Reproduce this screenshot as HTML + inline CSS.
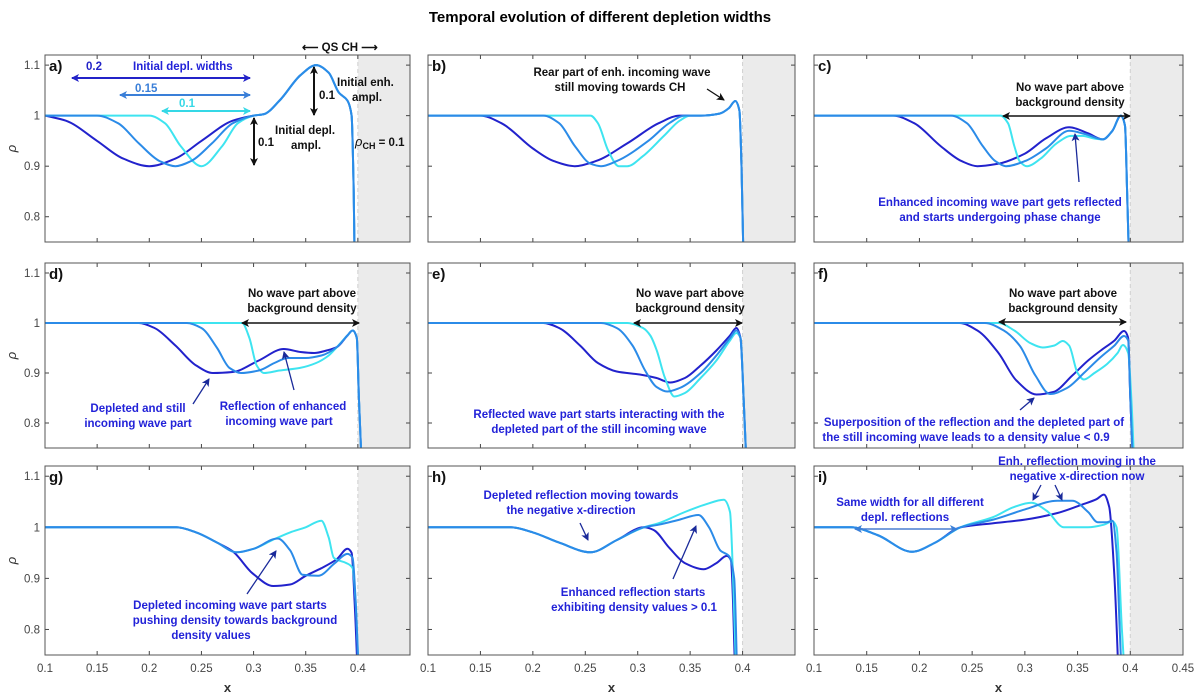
<!DOCTYPE html>
<html><head><meta charset="utf-8"><style>
body{margin:0;background:#fff}
svg{display:block}
text{font-family:"Liberation Sans",Arial,sans-serif}
.lab{font-size:11.5px;font-weight:bold}
.blue{fill:#2222d8}
.blk{fill:#111}
.tick{font-size:11.5px;fill:#444}
</style></head><body>
<svg id="fig" width="1200" height="700" viewBox="0 0 1200 700">
<defs>
<marker id="ahB" markerWidth="8" markerHeight="8" refX="7" refY="4" orient="auto-start-reverse" markerUnits="userSpaceOnUse"><path d="M0,0 L8,4 L0,8 L2,4 z" fill="#111"/></marker>
<marker id="ahD" markerWidth="8" markerHeight="8" refX="7" refY="4" orient="auto-start-reverse" markerUnits="userSpaceOnUse"><path d="M0,0 L8,4 L0,8 L2,4 z" fill="#2323c8"/></marker>
<marker id="ahM" markerWidth="8" markerHeight="8" refX="7" refY="4" orient="auto-start-reverse" markerUnits="userSpaceOnUse"><path d="M0,0 L8,4 L0,8 L2,4 z" fill="#3a7fd8"/></marker>
<marker id="ahC" markerWidth="8" markerHeight="8" refX="7" refY="4" orient="auto-start-reverse" markerUnits="userSpaceOnUse"><path d="M0,0 L8,4 L0,8 L2,4 z" fill="#35d8e6"/></marker>
<marker id="ahN" markerWidth="8" markerHeight="8" refX="7" refY="4" orient="auto-start-reverse" markerUnits="userSpaceOnUse"><path d="M0,0 L8,4 L0,8 L2,4 z" fill="#1a2a9a"/></marker>
</defs>
<text x="600" y="22" text-anchor="middle" font-size="15" font-weight="bold">Temporal evolution of different depletion widths</text>
<g id="panels"></g>
<g id="annot">
<text class="lab" x="302" y="51" fill="#111">⟵ QS CH ⟶</text>
<text class="lab blue" x="133" y="70">Initial depl. widths</text>
<text class="lab" x="86" y="70" fill="#2323c8">0.2</text>
<line x1="72" y1="78" x2="250" y2="78" stroke="#2323c8" stroke-width="2" marker-start="url(#ahD)" marker-end="url(#ahD)"/>
<text class="lab" x="135" y="92" fill="#3a7fd8">0.15</text>
<line x1="120" y1="95" x2="250" y2="95" stroke="#3a7fd8" stroke-width="2" marker-start="url(#ahM)" marker-end="url(#ahM)"/>
<text class="lab" x="179" y="107" fill="#35d8e6">0.1</text>
<line x1="162" y1="111" x2="250" y2="111" stroke="#35d8e6" stroke-width="2" marker-start="url(#ahC)" marker-end="url(#ahC)"/>
<line x1="254" y1="118" x2="254" y2="165" stroke="#111" stroke-width="2" marker-start="url(#ahB)" marker-end="url(#ahB)"/>
<text class="lab blk" x="258" y="146">0.1</text>
<text class="lab blk" x="275" y="134">Initial depl.</text>
<text class="lab blk" x="291" y="149">ampl.</text>
<line x1="314" y1="67" x2="314" y2="115" stroke="#111" stroke-width="2" marker-start="url(#ahB)" marker-end="url(#ahB)"/>
<text class="lab blk" x="319" y="99">0.1</text>
<text class="lab blk" x="337" y="86">Initial enh.</text>
<text class="lab blk" x="352" y="101">ampl.</text>
<text class="lab blk" x="355" y="146"><tspan font-style="italic" font-weight="normal" font-size="13">ρ</tspan><tspan font-size="9" dy="3">CH</tspan><tspan dy="-3"> = 0.1</tspan></text>
<text class="lab blk" x="622" y="76" text-anchor="middle">Rear part of enh. incoming wave</text>
<text class="lab blk" x="620" y="91" text-anchor="middle">still moving towards CH</text>
<line x1="707" y1="89" x2="724" y2="100" stroke="#111" stroke-width="1.3" marker-end="url(#ahB)"/>
<text class="lab blk" x="1070" y="91" text-anchor="middle">No wave part above</text>
<text class="lab blk" x="1070" y="106" text-anchor="middle">background density</text>
<line x1="1003" y1="116" x2="1130" y2="116" stroke="#111" stroke-width="1.5" marker-start="url(#ahB)" marker-end="url(#ahB)"/>
<line x1="1079" y1="182" x2="1075" y2="134" stroke="#1a2a9a" stroke-width="1.3" marker-end="url(#ahN)"/>
<text class="lab blue" x="1000" y="206" text-anchor="middle">Enhanced incoming wave part gets reflected</text>
<text class="lab blue" x="1000" y="221" text-anchor="middle">and starts undergoing phase change</text>
<text class="lab blk" x="302" y="297" text-anchor="middle">No wave part above</text>
<text class="lab blk" x="302" y="312" text-anchor="middle">background density</text>
<line x1="242" y1="323" x2="359" y2="323" stroke="#111" stroke-width="1.5" marker-start="url(#ahB)" marker-end="url(#ahB)"/>
<text class="lab blue" x="138" y="412" text-anchor="middle">Depleted and still</text>
<text class="lab blue" x="138" y="427" text-anchor="middle">incoming wave part</text>
<line x1="193" y1="404" x2="209" y2="379" stroke="#1a2a9a" stroke-width="1.3" marker-end="url(#ahN)"/>
<text class="lab blue" x="283" y="410" text-anchor="middle">Reflection of enhanced</text>
<text class="lab blue" x="279" y="425" text-anchor="middle">incoming wave part</text>
<line x1="294" y1="390" x2="284" y2="352" stroke="#1a2a9a" stroke-width="1.3" marker-end="url(#ahN)"/>
<text class="lab blk" x="690" y="297" text-anchor="middle">No wave part above</text>
<text class="lab blk" x="690" y="312" text-anchor="middle">background density</text>
<line x1="634" y1="323" x2="742" y2="323" stroke="#111" stroke-width="1.5" marker-start="url(#ahB)" marker-end="url(#ahB)"/>
<text class="lab blue" x="599" y="418" text-anchor="middle">Reflected wave part starts interacting with the</text>
<text class="lab blue" x="599" y="433" text-anchor="middle">depleted part of the still incoming wave</text>
<text class="lab blk" x="1063" y="297" text-anchor="middle">No wave part above</text>
<text class="lab blk" x="1063" y="312" text-anchor="middle">background density</text>
<line x1="999" y1="322" x2="1126" y2="322" stroke="#111" stroke-width="1.5" marker-start="url(#ahB)" marker-end="url(#ahB)"/>
<line x1="1020" y1="410" x2="1034" y2="398" stroke="#1a2a9a" stroke-width="1.3" marker-end="url(#ahN)"/>
<text class="lab blue" x="974" y="426" text-anchor="middle">Superposition of the reflection and the depleted part of</text>
<text class="lab blue" x="966" y="441" text-anchor="middle">the still incoming wave leads to a density value &lt; 0.9</text>
<line x1="247" y1="594" x2="276" y2="551" stroke="#1a2a9a" stroke-width="1.3" marker-end="url(#ahN)"/>
<text class="lab blue" x="230" y="609" text-anchor="middle">Depleted incoming wave part starts</text>
<text class="lab blue" x="235" y="624" text-anchor="middle">pushing density towards background</text>
<text class="lab blue" x="211" y="639" text-anchor="middle">density values</text>
<text class="lab blue" x="581" y="499" text-anchor="middle">Depleted reflection moving towards</text>
<text class="lab blue" x="571" y="514" text-anchor="middle">the negative x-direction</text>
<line x1="580" y1="523" x2="588" y2="540" stroke="#1a2a9a" stroke-width="1.3" marker-end="url(#ahN)"/>
<line x1="673" y1="579" x2="696" y2="526" stroke="#1a2a9a" stroke-width="1.3" marker-end="url(#ahN)"/>
<text class="lab blue" x="633" y="596" text-anchor="middle">Enhanced reflection starts</text>
<text class="lab blue" x="634" y="611" text-anchor="middle">exhibiting density values &gt; 0.1</text>
<text class="lab blue" x="1077" y="465" text-anchor="middle">Enh. reflection moving in the</text>
<text class="lab blue" x="1077" y="480" text-anchor="middle">negative x-direction now</text>
<line x1="1041" y1="485" x2="1033" y2="500" stroke="#1a2a9a" stroke-width="1.3" marker-end="url(#ahN)"/>
<line x1="1055" y1="485" x2="1062" y2="500" stroke="#1a2a9a" stroke-width="1.3" marker-end="url(#ahN)"/>
<text class="lab blue" x="910" y="506" text-anchor="middle">Same width for all different</text>
<text class="lab blue" x="905" y="521" text-anchor="middle">depl. reflections</text>
<line x1="855" y1="529" x2="957" y2="529" stroke="#4a7fd0" stroke-width="1.5" marker-start="url(#ahM)" marker-end="url(#ahM)"/>
</g>
</svg>
<script>
const tailA=[[0.31,1.003],[0.325,1.03],[0.345,1.08],[0.36,1.1],[0.372,1.085],[0.382,1.045],[0.39,1.03],[0.394,1.0],[0.396,0.85],[0.397,0.7]];
const a_dark=[[0.1,1],[0.12,0.99],[0.15,0.95],[0.175,0.915],[0.2,0.9],[0.225,0.915],[0.25,0.95],[0.28,0.99],[0.3,1]].concat(tailA);
const a_mid=[[0.1,1],[0.15,1],[0.17,0.985],[0.19,0.945],[0.21,0.91],[0.225,0.9],[0.24,0.91],[0.26,0.945],[0.28,0.985],[0.3,1]].concat(tailA);
const a_cyan=[[0.1,1],[0.2,1],[0.215,0.985],[0.23,0.94],[0.25,0.9],[0.27,0.94],[0.285,0.985],[0.3,1]].concat(tailA);
const tailB=[[0.36,1.0],[0.378,1.004],[0.387,1.015],[0.393,1.029],[0.397,1.01],[0.399,0.9],[0.401,0.7]];
const b_dark=[[0.1,1],[0.15,1],[0.17,0.985],[0.2,0.935],[0.22,0.91],[0.24,0.9],[0.26,0.91],[0.29,0.945],[0.32,0.985],[0.34,1]].concat(tailB);
const b_mid=[[0.1,1],[0.21,1],[0.225,0.985],[0.24,0.94],[0.255,0.905],[0.265,0.9],[0.28,0.91],[0.31,0.95],[0.33,0.985],[0.345,1]].concat(tailB);
const b_cyan=[[0.1,1],[0.255,1],[0.262,0.985],[0.272,0.93],[0.282,0.9],[0.29,0.9],[0.305,0.92],[0.325,0.96],[0.34,0.99],[0.35,1]].concat(tailB);
const tailC=[[0.383,0.97],[0.391,1.0],[0.395,0.98],[0.397,0.85],[0.399,0.7]];
const c_dark=[[0.1,1],[0.175,1],[0.195,0.985],[0.22,0.94],[0.24,0.91],[0.255,0.9],[0.275,0.905],[0.3,0.925],[0.32,0.955],[0.342,0.977],[0.36,0.965],[0.374,0.953]].concat(tailC);
const c_mid=[[0.1,1],[0.23,1],[0.245,0.985],[0.26,0.94],[0.272,0.91],[0.282,0.9],[0.3,0.91],[0.32,0.935],[0.342,0.97],[0.358,0.963],[0.374,0.953]].concat(tailC);
const c_cyan=[[0.1,1],[0.277,1],[0.284,0.985],[0.29,0.94],[0.295,0.91],[0.302,0.9],[0.315,0.915],[0.33,0.945],[0.344,0.96],[0.355,0.96],[0.365,0.955],[0.374,0.953]].concat(tailC);
const tailD=[[0.39,0.975],[0.395,0.985],[0.399,0.97],[0.401,0.85],[0.404,0.7]];
const d_dark=[[0.1,1],[0.19,1],[0.205,0.99],[0.225,0.955],[0.245,0.915],[0.261,0.9],[0.28,0.902],[0.305,0.925],[0.329,0.948],[0.345,0.942],[0.358,0.94],[0.37,0.945],[0.38,0.952]].concat(tailD);
const d_mid=[[0.1,1],[0.236,1],[0.25,0.99],[0.265,0.95],[0.277,0.91],[0.288,0.9],[0.305,0.905],[0.32,0.92],[0.333,0.93],[0.35,0.93],[0.365,0.935],[0.38,0.952]].concat(tailD);
const d_cyan=[[0.1,1],[0.289,1],[0.296,0.97],[0.303,0.915],[0.31,0.9],[0.325,0.905],[0.344,0.91],[0.36,0.92],[0.372,0.935],[0.38,0.952]].concat(tailD);
const e_dark=[[0.1,1],[0.21,1],[0.225,0.99],[0.245,0.955],[0.262,0.92],[0.28,0.903],[0.302,0.897],[0.318,0.89],[0.331,0.881],[0.345,0.89],[0.36,0.915],[0.375,0.945],[0.388,0.975],[0.394,0.99],[0.398,0.97],[0.401,0.85],[0.404,0.7]];
const e_mid=[[0.1,1],[0.265,1],[0.28,0.99],[0.295,0.955],[0.307,0.905],[0.318,0.872],[0.328,0.863],[0.34,0.87],[0.36,0.9],[0.375,0.935],[0.388,0.97],[0.394,0.985],[0.398,0.97],[0.401,0.85],[0.404,0.7]];
const e_cyan=[[0.1,1],[0.29,1],[0.305,0.99],[0.312,0.975],[0.318,0.946],[0.326,0.89],[0.335,0.853],[0.345,0.86],[0.36,0.89],[0.375,0.925],[0.388,0.965],[0.394,0.98],[0.398,0.97],[0.401,0.85],[0.404,0.7]];
const f_dark=[[0.1,1],[0.238,1],[0.255,0.985],[0.275,0.94],[0.292,0.885],[0.311,0.857],[0.327,0.862],[0.345,0.895],[0.36,0.925],[0.372,0.945],[0.385,0.965],[0.394,0.984],[0.398,0.97],[0.4,0.85],[0.403,0.7]];
const f_mid=[[0.1,1],[0.262,1],[0.28,0.985],[0.295,0.955],[0.31,0.895],[0.324,0.858],[0.34,0.87],[0.356,0.9],[0.372,0.932],[0.385,0.955],[0.394,0.974],[0.398,0.965],[0.4,0.85],[0.403,0.7]];
const f_cyan=[[0.1,1],[0.275,1],[0.29,0.985],[0.305,0.96],[0.317,0.951],[0.328,0.955],[0.336,0.964],[0.342,0.955],[0.35,0.9],[0.356,0.887],[0.366,0.9],[0.378,0.918],[0.388,0.94],[0.393,0.956],[0.398,0.94],[0.401,0.85],[0.404,0.7]];
const headG=[[0.1,1],[0.226,1],[0.245,0.99],[0.265,0.97]];
const g_dark=headG.concat([[0.28,0.953],[0.299,0.91],[0.319,0.885],[0.335,0.888],[0.35,0.905],[0.365,0.92],[0.38,0.938],[0.39,0.958],[0.394,0.95],[0.397,0.85],[0.4,0.7]]);
const g_mid=headG.concat([[0.284,0.951],[0.3,0.958],[0.323,0.978],[0.335,0.955],[0.347,0.907],[0.362,0.905],[0.378,0.93],[0.39,0.948],[0.395,0.94],[0.398,0.85],[0.401,0.7]]);
const g_cyan=headG.concat([[0.284,0.951],[0.3,0.958],[0.318,0.975],[0.335,0.99],[0.35,1.0],[0.365,1.013],[0.372,0.98],[0.377,0.94],[0.389,0.93],[0.395,0.92],[0.398,0.85],[0.401,0.7]]);
const headH=[[0.1,1],[0.179,1],[0.2,0.99],[0.225,0.97],[0.255,0.951],[0.28,0.975],[0.306,1.0]];
const h_dark=headH.concat([[0.315,0.995],[0.33,0.96],[0.345,0.93],[0.363,0.918],[0.375,0.93],[0.385,0.944],[0.389,0.935],[0.391,0.85],[0.393,0.7]]);
const h_mid=headH.concat([[0.32,1.005],[0.34,1.015],[0.358,1.024],[0.368,1.0],[0.379,0.954],[0.387,0.944],[0.392,0.9],[0.395,0.7]]);
const h_cyan=headH.concat([[0.32,1.008],[0.345,1.03],[0.365,1.045],[0.382,1.054],[0.388,1.03],[0.391,0.9],[0.394,0.7]]);
const headI=[[0.1,1],[0.135,1],[0.16,0.985],[0.193,0.952],[0.215,0.97],[0.239,1.0]];
const i_dark=headI.concat([[0.27,1.008],[0.3,1.015],[0.331,1.028],[0.355,1.045],[0.368,1.055],[0.375,1.064],[0.38,1.04],[0.385,0.9],[0.389,0.7]]);
const i_mid=headI.concat([[0.27,1.015],[0.3,1.035],[0.331,1.052],[0.345,1.052],[0.36,1.03],[0.369,1.01],[0.378,1.01],[0.383,1.013],[0.387,0.95],[0.39,0.8],[0.392,0.7]]);
const i_cyan=headI.concat([[0.27,1.02],[0.29,1.04],[0.306,1.048],[0.321,1.032],[0.337,1.0],[0.36,1.0],[0.375,1.005],[0.383,1.012],[0.387,1.0],[0.392,0.8],[0.395,0.7]]);
const panelLabels=['a)','b)','c)','d)','e)','f)','g)','h)','i)'];
const xTicks=[0.1,0.15,0.2,0.25,0.3,0.35,0.4,0.45];
const yTicks=[0.8,0.9,1,1.1];
const seriesSets=[[a_dark,a_mid,a_cyan],[b_dark,b_mid,b_cyan],[c_dark,c_mid,c_cyan],[d_dark,d_mid,d_cyan],[e_dark,e_mid,e_cyan],[f_dark,f_mid,f_cyan],[g_dark,g_mid,g_cyan],[h_dark,h_mid,h_cyan],[i_dark,i_mid,i_cyan]];
const seriesNames=['dark','mid','cyan'];
const colors=['#2222cc','#2b8be8','#3ee4f0'];
const XD=[0.1,0.45], YD=[0.75,1.12], CH=0.4;
const cols=[[45,410],[428,795],[814,1183]];
const rows=[[55,242],[263,448],[466,655]];
const NS='http://www.w3.org/2000/svg';
const root=document.getElementById('panels');
function mk(tag,attrs,parent){const e=document.createElementNS(NS,tag);for(const k in attrs)e.setAttribute(k,attrs[k]);parent.appendChild(e);return e;}
// monotone cubic (Fritsch-Carlson) path in pixel space
function monoPath(pts){const n=pts.length;const dx=[],m=[],t=new Array(n);
 for(let i=0;i<n-1;i++){dx.push(pts[i+1][0]-pts[i][0]);m.push((pts[i+1][1]-pts[i][1])/dx[i]);}
 t[0]=m[0];t[n-1]=m[n-2];
 for(let i=1;i<n-1;i++){if(m[i-1]*m[i]<=0)t[i]=0;else{const w1=2*dx[i]+dx[i-1],w2=dx[i]+2*dx[i-1];t[i]=(w1+w2)/(w1/m[i-1]+w2/m[i]);}}
 let d='M'+pts[0][0].toFixed(1)+','+pts[0][1].toFixed(1);
 for(let i=0;i<n-1;i++){const h=dx[i]/3;
  d+=' C'+(pts[i][0]+h).toFixed(1)+','+(pts[i][1]+t[i]*h).toFixed(1)+' '+(pts[i+1][0]-h).toFixed(1)+','+(pts[i+1][1]-t[i+1]*h).toFixed(1)+' '+pts[i+1][0].toFixed(1)+','+pts[i+1][1].toFixed(1);}
 return d;}
for(let p=0;p<9;p++){
 const r=Math.floor(p/3),c=p%3;const L=cols[c][0],R=cols[c][1],T=rows[r][0],B=rows[r][1];
 const sx=v=>L+(v-XD[0])/(XD[1]-XD[0])*(R-L);const sy=v=>B-(v-YD[0])/(YD[1]-YD[0])*(B-T);
 const g=mk('g',{},root);
 
 
 mk('clipPath',{id:'clip'+p},g);
 mk('rect',{x:L,y:T,width:R-L,height:B-T},document.getElementById('clip'+p));
 const bg=mk('rect',{x:sx(CH),y:T,width:R-sx(CH),height:B-T,fill:'#ebebeb'},g);
 
 
 mk('line',{x1:sx(CH),y1:T,x2:sx(CH),y2:B,stroke:'#d0d0d0','stroke-dasharray':'4,3'},g);
 xTicks.forEach(t=>{if(t<=XD[0]||t>=XD[1])return;const x=sx(t);
  mk('line',{x1:x,y1:B,x2:x,y2:B-4,stroke:'#444'},g);mk('line',{x1:x,y1:T,x2:x,y2:T+4,stroke:'#444'},g);});
 yTicks.forEach(t=>{const y=sy(t);mk('line',{x1:L,y1:y,x2:L+4,y2:y,stroke:'#444'},g);mk('line',{x1:R,y1:y,x2:R-4,y2:y,stroke:'#444'},g);
  if(c===0){const tl=mk('text',{x:L-5,y:y+4,'text-anchor':'end',class:'tick'},g);tl.textContent=String(t);
   
   }});
 if(r===2){xTicks.forEach(t=>{if(c<2&&t>0.44)return;const tl=mk('text',{x:sx(t),y:B+17,'text-anchor':'middle',class:'tick'},g);tl.textContent=String(t);
   
   });
  const xl=mk('text',{x:(L+R)/2,y:B+37,'text-anchor':'middle','font-size':'13','font-weight':'bold',fill:'#333'},g);xl.textContent='x';
  
  }
 if(c===0){const yl=mk('text',{x:0,y:0,transform:'translate(16,'+((T+B)/2)+') rotate(-90)','text-anchor':'middle','font-size':'13','font-style':'italic',fill:'#333'},g);yl.textContent='ρ';
  
  }
 const sg=mk('g',{'clip-path':'url(#clip'+p+')'},g);
 [0,2,1].forEach(si=>{const pts=seriesSets[p][si].map(q=>[sx(q[0]),sy(q[1])]);
  const path=mk('path',{d:monoPath(pts),fill:'none',stroke:colors[si],'stroke-width':2,'stroke-linejoin':'round'},sg);
  
  });
 const fr=mk('rect',{x:L,y:T,width:R-L,height:B-T,fill:'none',stroke:'#555','stroke-width':1},g);
 
 
 const pl=mk('text',{x:L+4,y:T+16,'font-size':'15','font-weight':'bold',fill:'#111'},g);pl.textContent=panelLabels[p];
 
 
}
</script>
</body></html>
